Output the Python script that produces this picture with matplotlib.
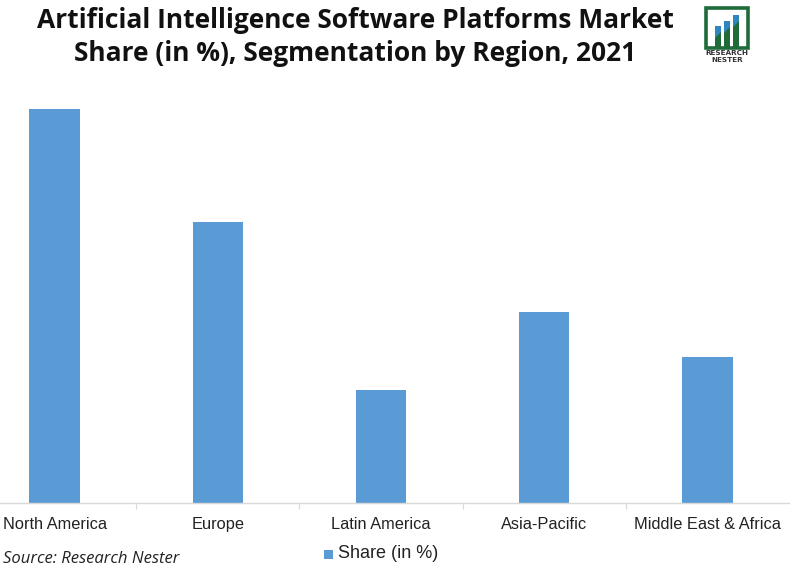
import matplotlib
matplotlib.use("Agg")
import matplotlib.pyplot as plt
from matplotlib.patches import Rectangle, Polygon

categories = ["North America", "Europe", "Latin America", "Asia-Pacific", "Middle East & Africa"]
values = [35, 25, 10, 17, 13]
series_name = "Share (in %)"
title = "Artificial Intelligence Software Platforms Market\nShare (in %), Segmentation by Region, 2021"
source = "Source: Research Nester"

W, H = 790, 574
fig = plt.figure(figsize=(W/100, H/100), dpi=100)
fig.patch.set_facecolor("white")

# axes in pixel coordinates
left_px, right_px = -27, 789
bottom_px, top_px = 503, 90
ax = fig.add_axes([left_px/W, 1 - bottom_px/H, (right_px-left_px)/W, (bottom_px-top_px)/H])
x = range(len(categories))
ax.bar(x, values, width=0.31, color="#5B9BD5", label=series_name, zorder=2)
ax.set_xlim(-0.5, len(categories) - 0.5)
ax.set_ylim(0, 36.7)
ax.set_yticks([])
for s in ["top", "right", "left"]:
    ax.spines[s].set_visible(False)
ax.spines["bottom"].set_color("#D9D9D9")
ax.spines["bottom"].set_linewidth(1)
ax.set_xticks([i + 0.5 for i in range(len(categories) - 1)], minor=False)
ax.set_xticklabels([])
ax.tick_params(axis="x", which="major", length=4, color="#D9D9D9", direction="out")
ax.set_xticks(list(x), minor=True)
ax.set_xticklabels(categories, minor=True, fontsize=11.8, family="Liberation Sans", color="#222222")
ax.tick_params(axis="x", which="minor", length=0, pad=10)

fig.text(355/W, 1 - 37/H, title, ha="center", va="center", fontsize=19, fontweight="bold",
         family="Open Sans", color="#111111", linespacing=1.25)
fig.text(3/W, 1 - 559/H, source, ha="left", va="center", fontsize=12, style="italic",
         family="Open Sans", color="#222222")

# legend
fig.patches.append(Rectangle((324/W, 1 - 559/H), 9/W, 9/H, transform=fig.transFigure,
                             facecolor="#5B9BD5", edgecolor="none"))
fig.text(338/W, 1 - 553/H, series_name, ha="left", va="center", fontsize=13,
         family="Liberation Sans", color="#222222")

# logo
green = "#1F6B3A"
blue = "#2E86C1"
fig.patches.append(Rectangle((706/W, 1 - 48/H), 42/W, 40/H, transform=fig.transFigure,
                             facecolor="none", edgecolor=green, linewidth=2.6))
for bx, btop in [(715, 26), (724, 21), (733, 15)]:
    fig.patches.append(Rectangle((bx/W, 1 - 48/H), 6/W, (48 - btop)/H, transform=fig.transFigure,
                                 facecolor=green, edgecolor="none"))
    fig.patches.append(Polygon([(bx/W, 1 - btop/H), ((bx + 6)/W, 1 - btop/H),
                                ((bx + 6)/W, 1 - (btop + 6)/H), (bx/W, 1 - (btop + 12)/H)],
                               closed=True, transform=fig.transFigure,
                               facecolor=blue, edgecolor="none"))
fig.text(727/W, 1 - 53/H, "RESEARCH", ha="center", va="center", fontsize=5.2, fontweight="bold",
         family="DejaVu Sans", color="#333333")
fig.text(727/W, 1 - 59.5/H, "NESTER", ha="center", va="center", fontsize=5.2, fontweight="bold",
         family="DejaVu Sans", color="#333333")

fig.savefig("out.png", dpi=100, facecolor="white")
